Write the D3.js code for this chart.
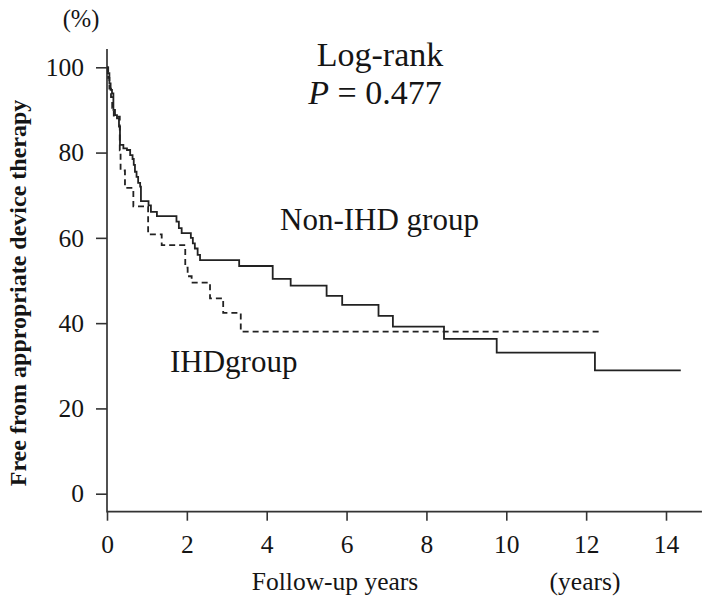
<!DOCTYPE html>
<html><head><meta charset="utf-8">
<script src="https://cdn.jsdelivr.net/npm/d3@7"></script>
<style>
body{margin:0;background:#fff}
svg{display:block}
</style>
</head><body><svg id="c" width="709" height="604"></svg>
<script>
// Non-IHD group (solid) : step times (years) and survival (%)
const nonIhdTimes = [0,0.02,0.06,0.09,0.125,0.16,0.2,0.25,0.3,0.325,0.41,0.5,0.58,0.64,0.67,0.7,0.74,0.78,0.83,0.85,1.04,1.1,1.25,1.74,1.8,1.87,2.1,2.15,2.2,2.27,2.33,3.31,4.15,4.6,5.5,5.89,6.8,7.16,8.44,9.76,12.22,14.37];
const nonIhdSurv  = [100,98.6,96.2,94.7,93.9,90.0,88.8,88.0,86.1,81.8,81.0,80.6,79.4,78.5,77.1,75.5,74.3,72.9,72.0,68.6,67.6,66.1,65.1,63.8,62.3,61.1,60.0,58.7,57.5,56.0,54.8,53.4,50.4,48.8,46.4,44.3,41.7,39.2,36.3,33.1,28.9,28.9];
// IHD group (dashed)
const ihdTimes = [0,0.03,0.06,0.1,0.13,0.17,0.32,0.34,0.45,0.66,1.03,1.37,1.96,2.02,2.12,2.58,2.91,3.35,12.39];
const ihdSurv  = [100,97.5,95,93,90.5,88.4,80.5,75.8,71.7,67.4,60.8,58.3,53.0,51.0,49.5,45.8,42.4,38.0,38.0];

const xTicks = [0,2,4,6,8,10,12,14];
const yTicks = [0,20,40,60,80,100];

const FONT = "'Liberation Serif','Times New Roman',Times,serif";
const INK = "#151515";
const svg = d3.select("#c");
const x = d3.scaleLinear().domain([0,14]).range([107,666]);
const y = d3.scaleLinear().domain([0,100]).range([493.7,67.3]);
const axisY0 = 511.7;

// axis lines
svg.append("line").attr("x1",x(0)).attr("x2",x(0)).attr("y1",y(104.3)).attr("y2",axisY0+0.7)
  .attr("stroke","#333").attr("stroke-width",1.7);
svg.append("line").attr("x1",x(0)).attr("x2",x(14.9)).attr("y1",axisY0).attr("y2",axisY0)
  .attr("stroke","#333").attr("stroke-width",1.7);

// Y axis ticks
const gy = svg.append("g").attr("transform",`translate(${x(0)},0)`)
  .call(d3.axisLeft(y).tickValues(yTicks).tickSize(11).tickPadding(12).tickFormat(d3.format("d")));
gy.attr("font-family",null).attr("font-size",null);
gy.select(".domain").remove();
gy.selectAll("line").attr("stroke","#333").attr("stroke-width",1.6);
gy.selectAll("text").style("font-family",FONT).style("font-size","25.5px").style("fill",INK);

// X axis ticks
const gx = svg.append("g").attr("transform",`translate(0,${axisY0})`)
  .call(d3.axisBottom(x).tickValues(xTicks).tickSize(9).tickPadding(14).tickFormat(d3.format("d")));
gx.attr("font-family",null).attr("font-size",null);
gx.select(".domain").remove();
gx.selectAll("line").attr("stroke","#333").attr("stroke-width",1.6);
gx.selectAll("text").style("font-family",FONT).style("font-size","25.5px").style("fill",INK);

// curves
const line = d3.line().x(d=>x(d[0])).y(d=>y(d[1])).curve(d3.curveStepAfter);
svg.append("path").datum(d3.zip(nonIhdTimes,nonIhdSurv)).attr("d",line)
  .attr("fill","none").attr("stroke","#222").attr("stroke-width",1.8);
svg.append("path").datum(d3.zip(ihdTimes,ihdSurv)).attr("d",line)
  .attr("fill","none").attr("stroke","#222").attr("stroke-width",1.8).attr("stroke-dasharray","6,4");

// texts
function txt(xp, yp, s, size, anchor){
  return svg.append("text").attr("x",xp).attr("y",yp).attr("text-anchor",anchor||"start")
    .style("font-family",FONT).style("font-size",size+"px").style("fill",INK).text(s);
}
txt(81,27,"(%)",24.5,"middle");
svg.append("text").attr("transform","translate(26,293) rotate(-90)").attr("text-anchor","middle")
  .style("font-family",FONT).style("font-size","24px").style("font-weight","bold").style("fill",INK)
  .text("Free from appropriate device therapy");
txt(380,66,"Log-rank",34,"middle");
const pt = svg.append("text").attr("x",375).attr("y",104).attr("text-anchor","middle")
  .style("font-family",FONT).style("font-size","34px").style("fill",INK);
pt.append("tspan").style("font-style","italic").text("P");
pt.append("tspan").text(" = 0.477");
txt(280,230,"Non-IHD group",31);
txt(170,372,"IHDgroup",31);
txt(335,590,"Follow-up years",25.5,"middle");
txt(585,590,"(years)",25.5,"middle");
</script>
</body></html>
